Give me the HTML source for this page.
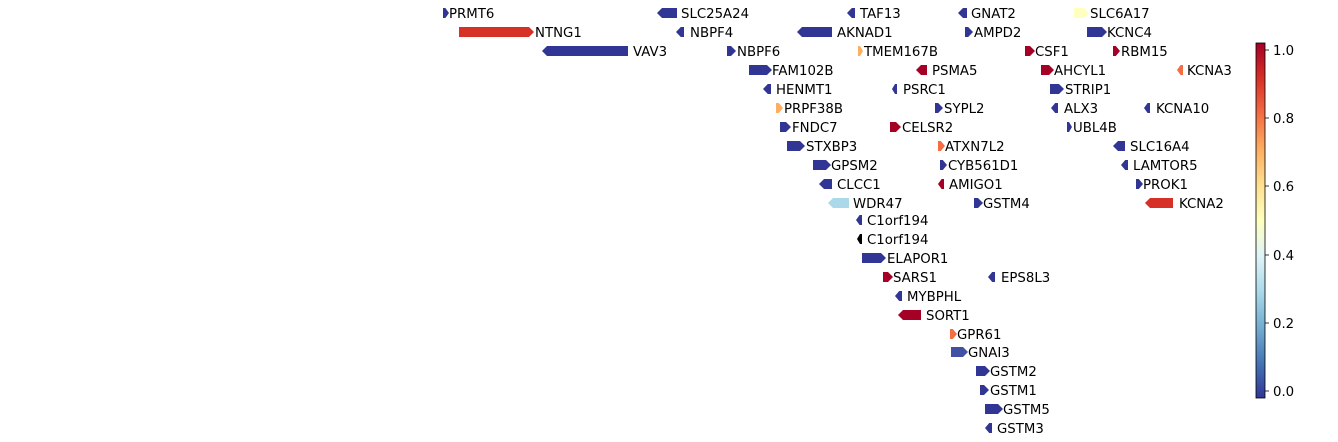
<!DOCTYPE html>
<html><head><meta charset="utf-8"><style>
html,body{margin:0;padding:0;background:#fff;}
svg{display:block;}
text{font-family:"DejaVu Sans","Liberation Sans",sans-serif;font-size:13.3px;fill:#000;}
</style></head><body>
<svg id="s" width="1338" height="442" xmlns="http://www.w3.org/2000/svg">
<defs><linearGradient id="cb" x1="0" y1="1" x2="0" y2="0">
<stop offset="0" stop-color="#313695"/><stop offset="0.1" stop-color="#4575b4"/><stop offset="0.2" stop-color="#74add1"/><stop offset="0.3" stop-color="#abd9e9"/><stop offset="0.4" stop-color="#e0f3f8"/><stop offset="0.5" stop-color="#ffffbf"/><stop offset="0.6" stop-color="#fee090"/><stop offset="0.7" stop-color="#fdae61"/><stop offset="0.8" stop-color="#f46d43"/><stop offset="0.9" stop-color="#d73027"/><stop offset="1" stop-color="#a50026"/>
</linearGradient></defs>
<g id="shapes"></g>
<g>
<text x="449" y="18">PRMT6</text>
<text x="681" y="18">SLC25A24</text>
<text x="860" y="18">TAF13</text>
<text x="971" y="18">GNAT2</text>
<text x="1090" y="18">SLC6A17</text>
<text x="535" y="37">NTNG1</text>
<text x="690" y="37">NBPF4</text>
<text x="837" y="37">AKNAD1</text>
<text x="974" y="37">AMPD2</text>
<text x="1107" y="37">KCNC4</text>
<text x="633" y="56">VAV3</text>
<text x="737" y="56">NBPF6</text>
<text x="864" y="56">TMEM167B</text>
<text x="1035" y="56">CSF1</text>
<text x="1121" y="56">RBM15</text>
<text x="772" y="75">FAM102B</text>
<text x="932" y="75">PSMA5</text>
<text x="1054" y="75">AHCYL1</text>
<text x="1187" y="75">KCNA3</text>
<text x="776" y="94">HENMT1</text>
<text x="903" y="94">PSRC1</text>
<text x="1065" y="94">STRIP1</text>
<text x="784" y="113">PRPF38B</text>
<text x="944" y="113">SYPL2</text>
<text x="1064" y="113">ALX3</text>
<text x="1156" y="113">KCNA10</text>
<text x="792" y="132">FNDC7</text>
<text x="902" y="132">CELSR2</text>
<text x="1073" y="132">UBL4B</text>
<text x="806" y="151">STXBP3</text>
<text x="945" y="151">ATXN7L2</text>
<text x="1130" y="151">SLC16A4</text>
<text x="831" y="170">GPSM2</text>
<text x="948" y="170">CYB561D1</text>
<text x="1133" y="170">LAMTOR5</text>
<text x="837" y="189">CLCC1</text>
<text x="949" y="189">AMIGO1</text>
<text x="1143" y="189">PROK1</text>
<text x="853" y="208">WDR47</text>
<text x="983" y="208">GSTM4</text>
<text x="1179" y="208">KCNA2</text>
<text x="867" y="225">C1orf194</text>
<text x="867" y="244">C1orf194</text>
<text x="887" y="263">ELAPOR1</text>
<text x="893" y="282">SARS1</text>
<text x="1001" y="282">EPS8L3</text>
<text x="907" y="301">MYBPHL</text>
<text x="926" y="320">SORT1</text>
<text x="957" y="339">GPR61</text>
<text x="968" y="357">GNAI3</text>
<text x="990" y="376">GSTM2</text>
<text x="990" y="395">GSTM1</text>
<text x="1003" y="414">GSTM5</text>
<text x="997" y="433">GSTM3</text>
</g>
<rect x="1256" y="43" width="9" height="355" fill="url(#cb)" stroke="#000" stroke-width="0.8"/>
<g stroke="#000" stroke-width="0.8">
<line x1="1265" y1="50" x2="1269" y2="50"/><line x1="1265" y1="118" x2="1269" y2="118"/><line x1="1265" y1="186" x2="1269" y2="186"/><line x1="1265" y1="255" x2="1269" y2="255"/><line x1="1265" y1="323" x2="1269" y2="323"/><line x1="1265" y1="391" x2="1269" y2="391"/>
</g>
<text x="1273" y="55">1.0</text>
<text x="1273" y="123">0.8</text>
<text x="1273" y="191">0.6</text>
<text x="1273" y="260">0.4</text>
<text x="1273" y="328">0.2</text>
<text x="1273" y="396">0.0</text>
</svg>
<script>
var B="#313695",C="#a50026",R="#d73027",O="#f46d43",Y="#fdae61";
var d=[
[443,449,13,1,B],[657,677,13,0,B],[847,855,13,0,B],[958,967,13,0,B],[1074,1089,13,1,"#ffffbf"],
[459,534,32,1,R],[676,684,32,0,B],[797,832,32,0,B],[965,973,32,1,B],[1087,1107,32,1,B],
[542,628,51,0,B],[727,736,51,1,B],[858,863,51,1,Y],[1025,1035,51,1,C],[1113,1120,51,1,C],
[749,772,70,1,B],[916,927,70,0,C],[1041,1054,70,1,C],[1177,1183,70,0,O],
[763,771,89,0,B],[892,897,89,0,B],[1050,1064,89,1,B],
[776,783,108,1,Y],[935,943,108,1,B],[1051,1058,108,0,B],[1144,1150,108,0,B],
[780,791,127,1,B],[890,901,127,1,C],[1067,1072,127,1,B],
[787,805,146,1,B],[938,945,146,1,O],[1113,1125,146,0,B],
[813,831,165,1,B],[940,947,165,1,B],[1121,1128,165,0,B],
[819,832,184,0,B],[938,944,184,0,C],[1136,1143,184,1,B],
[828,849,203,0,"#abd9e9"],[974,983,203,1,B],[1145,1173,203,0,R],
[856,862,220,0,B],[857,862,239,0,"#000"],[862,886,258,1,B],
[883,893,277,1,C],[988,995,277,0,B],[895,902,296,0,B],[898,921,315,0,C],
[950,957,334,1,O],[951,968,352,1,"#4150a2"],[976,990,371,1,B],[980,989,390,1,B],[985,1003,409,1,B],[985,992,428,0,B]];
var g=document.getElementById("shapes"),s="";
d.forEach(function(e){var a=e[0],b=e[1],y=e[2],h=Math.min(5,(b-a)*0.6),p;
if(e[3]){p=[[a,y-5],[b-h,y-5],[b,y],[b-h,y+5],[a,y+5]];}else{p=[[b,y-5],[a+h,y-5],[a,y],[a+h,y+5],[b,y+5]];}
s+='<polygon points="'+p.map(function(q){return q.join(",")}).join(" ")+'" fill="'+e[4]+'"/>';});
g.innerHTML=s;
</script>
</body></html>
